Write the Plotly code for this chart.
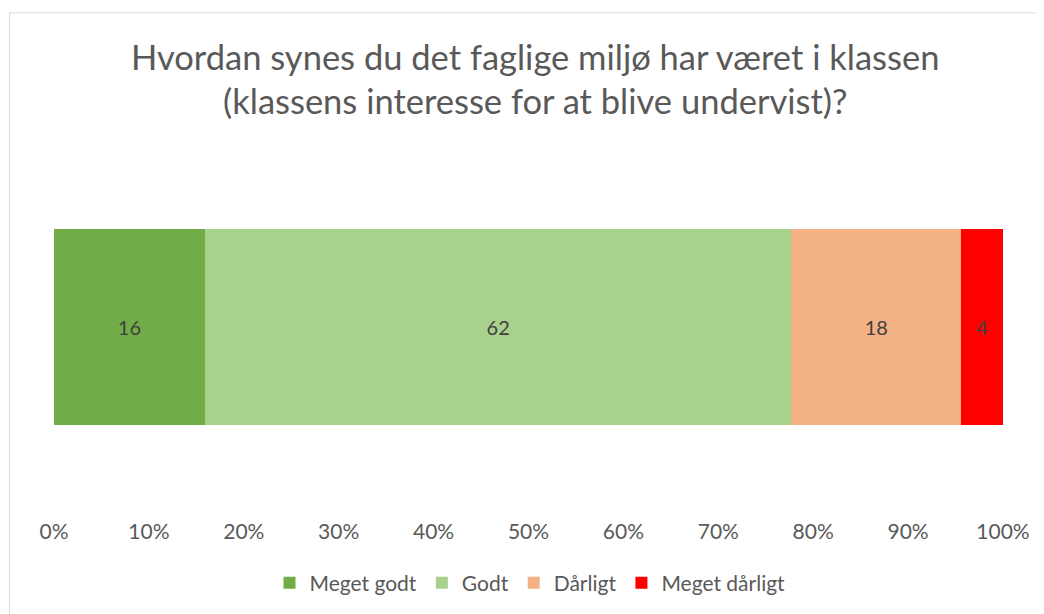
import plotly.graph_objects as go

categories = ["Klassen"]
series_names = ["Meget godt", "Godt", "Dårligt", "Meget dårligt"]
series_values = [15.9, 61.8, 17.9, 4.4]
series_colors = ["#70AD47", "#A9D18E", "#F4B183", "#FF0000"]
tick_vals = [0, 10, 20, 30, 40, 50, 60, 70, 80, 90, 100]
tick_text = [f"{v}%" for v in tick_vals]
title_lines = ["Hvordan synes du det faglige miljø har været i klassen",
               "(klassens interesse for at blive undervist)?"]

FONT = "Lato"
OFF = 8  # page body margin offset

fig = go.Figure()
for name, val, col in zip(series_names, series_values, series_colors):
    fig.add_trace(go.Bar(
        y=categories, x=[val], name=name, orientation="h",
        marker=dict(color=col, line=dict(width=0)),
        texttemplate="%{x:.0f}", textposition="inside",
        insidetextanchor="middle", textangle=0, constraintext="none",
        textfont=dict(family=FONT, size=20, color="#404040"),
        width=0.517,
    ))

W, H = 1044 - OFF, 614 - OFF
# plot area in page pixels: x 54..1003, y 137..518
L = 54 - OFF
R = 1044 - 1003
T = 137 - OFF
B = 614 - 518
ph = H - T - B
pw = W - L - R

def py(pix):
    return (H - B - (pix - OFF)) / ph

def px(pix):
    return ((pix - OFF) - L) / pw

fig.update_layout(
    width=W, height=H, barmode="stack",
    margin=dict(l=L, r=R, t=T, b=B),
    paper_bgcolor="white", plot_bgcolor="white",
    font=dict(family=FONT, color="#595959"),
    xaxis=dict(range=[0, 100], tickvals=tick_vals, ticktext=tick_text,
               showgrid=False, zeroline=False, showline=False,
               tickfont=dict(family=FONT, size=21, color="#595959"),
               fixedrange=True),
    yaxis=dict(visible=False, range=[-0.5, 0.5], fixedrange=True),
    legend=dict(orientation="h", x=px(530), xanchor="center", y=py(583), yanchor="middle",
                font=dict(family=FONT, size=21, color="#595959"),
                traceorder="normal", itemclick=False),
    showlegend=True,
)

for line, ypix in zip(title_lines, [56, 100]):
    fig.add_annotation(text=line, xref="paper", yref="paper",
                       x=px(535), y=py(ypix), xanchor="center", yanchor="middle",
                       showarrow=False,
                       font=dict(family=FONT, size=34.5, color="#595959"))

# chart-area border (top and left edges visible in the reference)
fig.add_shape(type="line", xref="paper", yref="paper",
              x0=px(9.5), x1=px(1060), y0=py(12.5), y1=py(12.5),
              line=dict(color="#D9D9D9", width=1), layer="below")
fig.add_shape(type="line", xref="paper", yref="paper",
              x0=px(9.5), x1=px(9.5), y0=py(12.5), y1=py(630),
              line=dict(color="#D9D9D9", width=1), layer="below")

fig.write_html("out.html")
